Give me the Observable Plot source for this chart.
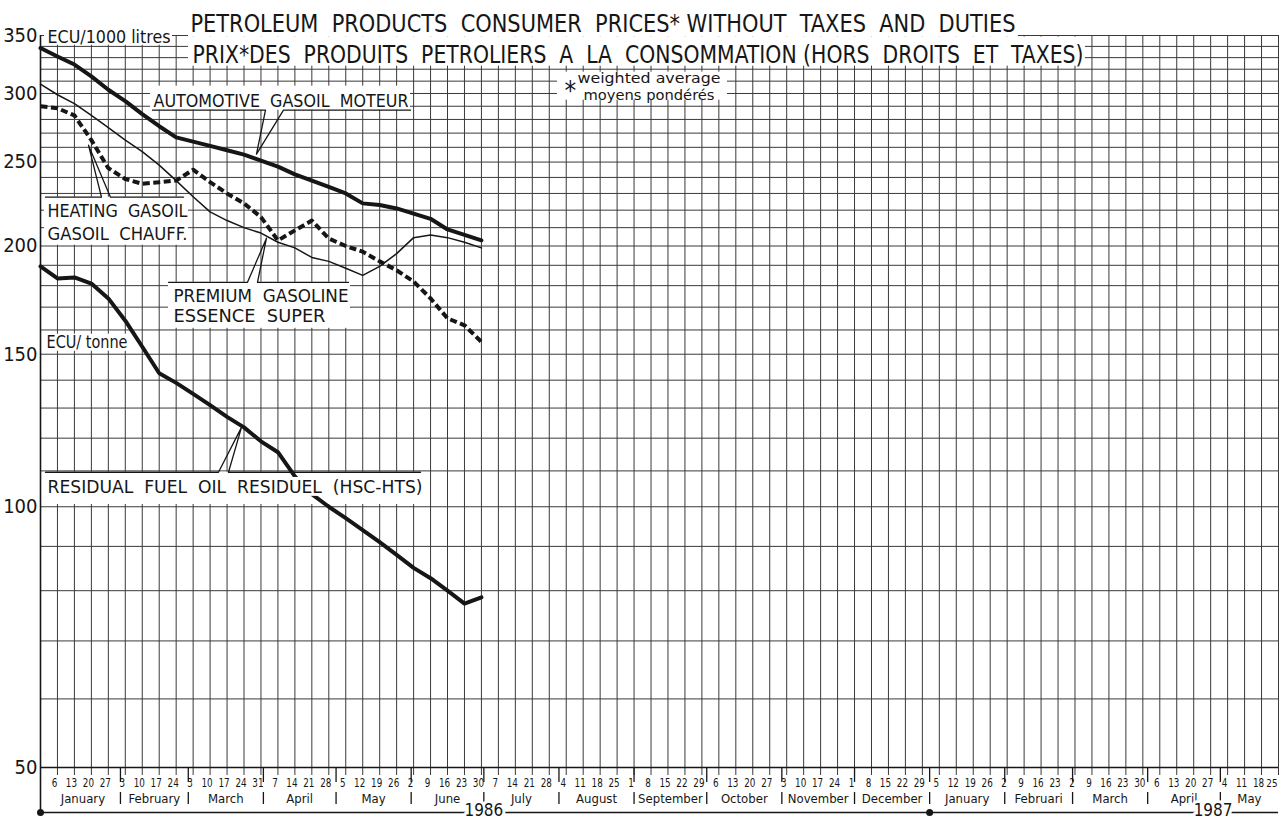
<!DOCTYPE html>
<html>
<head>
<meta charset="utf-8">
<script src="https://cdn.jsdelivr.net/npm/d3@7"></script>
<script src="https://cdn.jsdelivr.net/npm/@observablehq/plot@0.6"></script>
<style>
  html, body { margin: 0; padding: 0; background: #ffffff; }
  svg { display: block; }
</style>
</head>
<body>
<div id="chart"></div>
<script>
// ---------------- DATA ----------------
// Weekly observations (Mondays), 30 Dec 1985 .. 30 Jun 1986
const seriesDates = d3.utcMonday.range(new Date(Date.UTC(1985, 11, 30)), new Date(Date.UTC(1986, 6, 1)));

// ECU / 1000 litres
const automotiveGasoil = [338.5, 331, 324, 314, 303, 294, 284, 275, 267, 264, 261, 258, 255, 251, 247, 242, 238, 234, 230, 224, 223, 221, 218, 215, 209, 206, 203];
const premiumGasoline  = [307.5, 299, 292, 283, 274, 265, 257, 248, 238, 228, 219, 214, 210, 207, 202, 199, 194, 192, 188.5, 185, 189.5, 196, 204.5, 206, 204.5, 202, 199];
const heatingGasoil    = [290, 288.5, 283, 265, 246, 239, 236, 237, 238, 245, 237, 230, 224, 216, 203, 208.5, 214, 204, 200, 197, 192, 187.5, 182, 174, 165, 162, 155];
// ECU / tonne
const residualFuelOil  = [189.5, 183.5, 184, 181, 174, 164, 153, 142.6, 139, 135, 131, 127, 123.5, 119, 115.6, 108.4, 103.4, 100, 97, 94, 91, 88, 85, 82.7, 80, 77.3, 78.6];

// Axis tick values / labels
const yTickLabels = [50, 100, 150, 200, 250, 300, 350];
const yGridValues = [50, 60, 70, 80, 90, 100, 110, 120, 130, 140, 150, 160, 170, 180, 190, 200, 210, 220, 230, 240, 250, 260, 270, 280, 290, 300, 310, 320, 330, 340, 350];
const monthNames = ["January", "February", "March", "April", "May", "June", "July", "August", "September", "October", "November", "December", "January", "Februari", "March", "April", "May"];
const yearNames = ["1986", "1987"];

// ---------------- SCALES / HELPERS ----------------
const X0 = new Date(Date.UTC(1985, 11, 30));
const X1 = new Date(Date.UTC(1987, 4, 25));
const W = w => new Date(X0.getTime() + w * 7 * 864e5); // week offset -> date

const axisWeeks = d3.utcMonday.range(new Date(Date.UTC(1986, 0, 6)), new Date(Date.UTC(1987, 4, 26)));
const lastWeek = axisWeeks[axisWeeks.length - 1];
const monthStarts = d3.utcMonth.range(new Date(Date.UTC(1986, 1, 1)), new Date(Date.UTC(1987, 4, 2)));
const monthSpans = d3.utcMonth.range(new Date(Date.UTC(1986, 0, 1)), new Date(Date.UTC(1987, 5, 1)));
const monthLabels = monthSpans.map((m, i) => {
  const a = Math.max(m.getTime(), X0.getTime());
  const b = Math.min(d3.utcMonth.offset(m, 1).getTime(), X1.getTime());
  return {name: monthNames[i], mid: new Date((a + b) / 2)};
});
const yearLabels = [
  {year: yearNames[0], date: new Date(Date.UTC(1986, 6, 1))},
  {year: yearNames[1], date: new Date(Date.UTC(1987, 3, 28))}
];
const yearDots = [X0, new Date(Date.UTC(1987, 0, 1))];

const seriesRows = (vals, name) => vals.map((v, i) => ({series: name, date: seriesDates[i], value: v}));
const autoRows = seriesRows(automotiveGasoil, "AUTOMOTIVE GASOIL MOTEUR");
const premRows = seriesRows(premiumGasoline, "PREMIUM GASOLINE");
const heatRows = seriesRows(heatingGasoil, "HEATING GASOIL");
const resRows  = seriesRows(residualFuelOil, "RESIDUAL FUEL OIL");

// ---------------- ANNOTATIONS (week offset, value units) ----------------
const boxes = [
  {w1: 0.236, w2: 7.783, v1: 341.1, v2: 356.9},   // ECU/1000 litres
  {w1: 8.726, w2: 57.665, v1: 348.5, v2: 379.4},  // title line 1
  {w1: 8.726, w2: 61.616, v1: 322.6, v2: 348.5},  // title line 2
  {w1: 30.483, w2: 40.507, v1: 294.7, v2: 317.5}, // weighted average
  {w1: 6.486, w2: 21.816, v1: 287.0, v2: 305.9},  // automotive
  {w1: 0.236, w2: 8.726, v1: 200.4, v2: 227.7},   // heating
  {w1: 7.547, w2: 18.278, v1: 160.7, v2: 181.6},  // premium
  {w1: 0.236, w2: 5.307, v1: 151.2, v2: 158.2},   // ECU/tonne
  {w1: 0.236, w2: 22.406, v1: 100.6, v2: 109.6}   // residual
];
const callouts = [
  {id: "auto", pts: [[6.604, 287.0], [13.267, 287.0], [12.736, 255.3], [14.328, 287.0], [21.816, 287.0]]},
  {id: "heat", pts: [[0.295, 227.7], [3.597, 227.7], [2.83, 261.5], [4.127, 227.7], [8.432, 227.7]]},
  {id: "prem", pts: [[7.547, 181.6], [12.205, 181.6], [13.325, 204.2], [12.795, 181.6], [18.16, 181.6]]},
  {id: "res",  pts: [[0.295, 109.6], [10.495, 109.6], [11.851, 123.5], [11.085, 109.6], [22.406, 109.6]]}
].flatMap(c => c.pts.map(p => ({id: c.id, w: p[0], v: p[1]})));
const masks = [{w1: 14.564, w2: 16.392, v1: 102.8, v2: 108.1}];
const annots = [
  {t: "ECU/1000 litres", w: 0.413, v: 348.0, size: 17, len: 123},
  {t: "PETROLEUM  PRODUCTS  CONSUMER  PRICES* WITHOUT  TAXES  AND  DUTIES", w: 8.844, v: 360.7, size: 25, len: 825},
  {t: "PRIX*DES  PRODUITS  PETROLIERS  A  LA  CONSOMMATION (HORS  DROITS  ET  TAXES)", w: 8.962, v: 332.2, size: 25, len: 891},
  {t: "*", w: 30.9, v: 301.5, size: 26, len: 0},
  {t: "weighted average", w: 31.663, v: 312.1, size: 14, len: 143},
  {t: "moyens pondérés", w: 32.02, v: 298.7, size: 14, len: 131},
  {t: "AUTOMOTIVE  GASOIL  MOTEUR", w: 6.663, v: 293.9, size: 18, len: 255},
  {t: "HEATING  GASOIL", w: 0.413, v: 219.1, size: 18, len: 140},
  {t: "GASOIL  CHAUFF.", w: 0.413, v: 206.1, size: 18, len: 140},
  {t: "PREMIUM  GASOLINE", w: 7.842, v: 175.2, size: 18, len: 175},
  {t: "ESSENCE  SUPER", w: 7.842, v: 166.1, size: 18, len: 152},
  {t: "ECU/ tonne", w: 0.354, v: 154.6, size: 17, len: 81},
  {t: "RESIDUAL  FUEL  OIL  RESIDUEL  (HSC-HTS)", w: 0.413, v: 105.3, size: 18, len: 375}
];

const FONT = "'Liberation Sans Narrow','DejaVu Sans Condensed','Liberation Sans',sans-serif";
const INK = "#161616";
const GRID = "#3a3a3a";

const chart = Plot.plot({
  width: 1279,
  height: 821,
  marginLeft: 40,
  marginRight: 1,
  marginTop: 35,
  marginBottom: 54,
  x: {type: "utc", domain: [X0, X1], axis: null},
  y: {type: "log", domain: [50, 350], axis: null},
  style: {fontFamily: FONT, background: "#ffffff", color: INK},
  marks: [
    // grid
    Plot.ruleY(yGridValues, {stroke: GRID, strokeWidth: 1}),
    Plot.ruleX(axisWeeks, {stroke: GRID, strokeWidth: 1, insetBottom: -8}),
    Plot.ruleY([50], {stroke: INK, strokeWidth: 1.5}),
    Plot.ruleX([X0], {stroke: INK, strokeWidth: 1.6, insetBottom: -45}),
    // label boxes
    Plot.rect(boxes, {x1: d => W(d.w1), x2: d => W(d.w2), y1: "v1", y2: "v2", fill: "#ffffff"}),
    Plot.line(callouts, {x: d => W(d.w), y: "v", z: "id", stroke: INK, strokeWidth: 1.3}),
    // series
    Plot.line(premRows, {x: "date", y: "value", stroke: INK, strokeWidth: 1.5}),
    Plot.line(heatRows, {x: "date", y: "value", stroke: INK, strokeWidth: 4, strokeDasharray: "7,3.5", strokeLinecap: "butt"}),
    Plot.line(autoRows, {x: "date", y: "value", stroke: INK, strokeWidth: 4}),
    Plot.line(resRows, {x: "date", y: "value", stroke: INK, strokeWidth: 4}),
    Plot.rect(masks, {x1: d => W(d.w1), x2: d => W(d.w2), y1: "v1", y2: "v2", fill: "#ffffff"}),
    // annotation text
    Plot.text(annots, {x: d => W(d.w), y: "v", text: "t", fontSize: "size", textAnchor: "start", fill: INK, ariaDescription: "annot"}),
    // y tick labels
    Plot.text(yTickLabels, {y: d => d, text: d => String(d), frameAnchor: "left", dx: -3, textAnchor: "end", fontSize: 20, fill: INK}),
    // x axis: week numbers, month dividers, month names, years
    Plot.text(axisWeeks.filter(d => d < lastWeek), {x: d => d, text: d => String(d.getUTCDate()), frameAnchor: "bottom", dy: 19, dx: -3, fontSize: 12, fill: INK, ariaDescription: "days"}),
    Plot.text([lastWeek], {x: d => d, text: d => String(d.getUTCDate()), frameAnchor: "bottom", dy: 19, dx: -1, textAnchor: "end", fontSize: 11, fill: INK, ariaDescription: "days"}),
    Plot.ruleX(monthStarts, {stroke: INK, strokeWidth: 1.3, insetTop: 732, insetBottom: -15}),
    Plot.ruleX(monthStarts, {stroke: INK, strokeWidth: 1.3, insetTop: 757, insetBottom: -37}),
    Plot.text(monthLabels, {x: "mid", text: "name", frameAnchor: "bottom", dy: 35, fontSize: 13, fill: INK}),
    Plot.ruleY([50], {dy: 45, stroke: INK, strokeWidth: 1.3}),
    Plot.dot(yearDots, {x: d => d, frameAnchor: "bottom", dy: 45, r: 3.5, fill: INK, stroke: "none"}),
    Plot.text(yearLabels, {x: "date", text: "year", frameAnchor: "bottom", dy: 48, fontSize: 17, fill: INK, stroke: "#ffffff", strokeWidth: 6})
  ]
});

// fit label widths to the reference lettering
const lenByText = new Map(annots.filter(a => a.len).map(a => [a.t, a.len]));
chart.querySelectorAll("text").forEach(t => {
  const s = t.textContent;
  if (lenByText.has(s)) {
    t.setAttribute("textLength", lenByText.get(s));
    t.setAttribute("lengthAdjust", "spacingAndGlyphs");
  }
});
chart.querySelectorAll('g[aria-description="days"] text').forEach(t => {
  const n = t.textContent.length;
  t.setAttribute("textLength", n * 5.6);
  t.setAttribute("lengthAdjust", "spacingAndGlyphs");
});

document.getElementById("chart").appendChild(chart);
</script>
</body>
</html>
